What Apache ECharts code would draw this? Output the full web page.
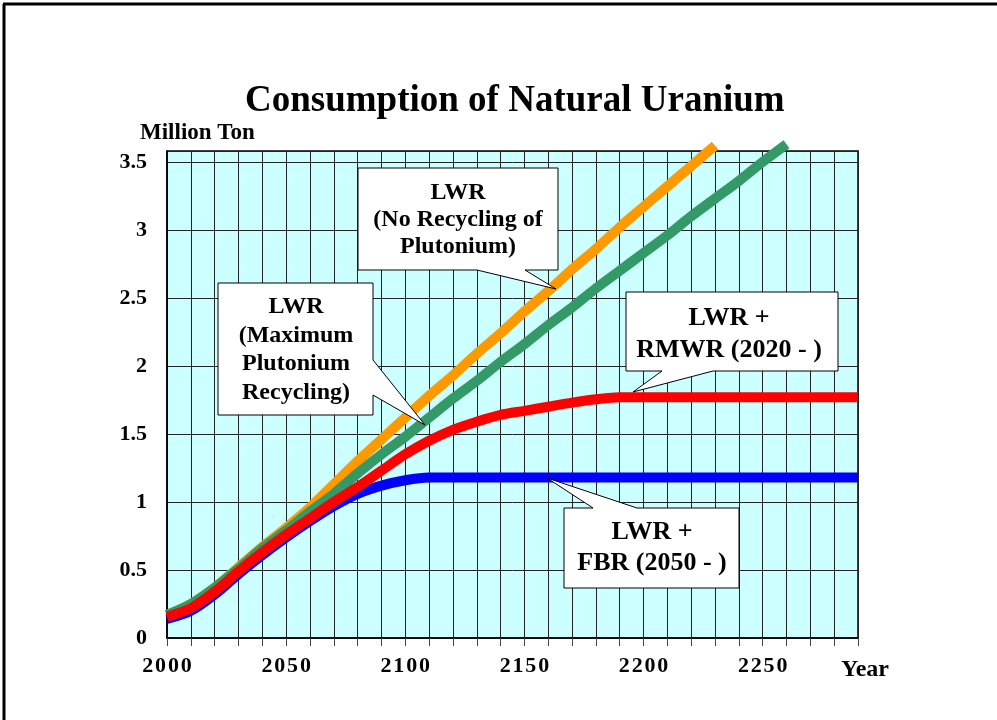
<!DOCTYPE html>
<html>
<head>
<meta charset="utf-8">
<script src="https://cdn.jsdelivr.net/npm/echarts@6/dist/echarts.min.js"></script>
<style>
  html, body { margin: 0; padding: 0; background: #fff; }
  #main { width: 997px; height: 720px; }
</style>
</head>
<body>
<div id="main"></div>
<script>
// years on the x axis (every 10 years)
var years = [2000, 2010, 2020, 2030, 2040, 2050, 2060, 2070, 2080, 2090,
             2100, 2110, 2120, 2130, 2140, 2150, 2160, 2170, 2180, 2190,
             2200, 2210, 2220, 2230, 2240, 2250, 2260, 2270, 2280, 2290];

// Million Ton
var lwrNoRecycle = [0.17, 0.25, 0.37, 0.52, 0.67, 0.81, 0.96, 1.13, 1.30, 1.46,
                    1.62, 1.78, 1.93, 2.09, 2.24, 2.40, 2.55, 2.71, 2.86, 3.02,
                    3.17, 3.32, 3.47, 3.62];
var lwrMaxRecycle = [0.17, 0.25, 0.37, 0.51, 0.66, 0.79, 0.93, 1.06, 1.21, 1.35,
                     1.48, 1.62, 1.76, 1.89, 2.03, 2.16, 2.30, 2.43, 2.57, 2.70,
                     2.83, 2.96, 3.10, 3.23, 3.36, 3.50, 3.63];
var lwrFbr = [0.14, 0.20, 0.32, 0.47, 0.61, 0.74, 0.86, 0.97, 1.06, 1.12,
              1.16, 1.18, 1.18, 1.18, 1.18, 1.18, 1.18, 1.18, 1.18, 1.18,
              1.18, 1.18, 1.18, 1.18, 1.18, 1.18, 1.18, 1.18, 1.18, 1.18];
var lwrRmwr = [0.157, 0.22, 0.34, 0.49, 0.63, 0.76, 0.88, 1.00, 1.11, 1.23,
               1.35, 1.45, 1.53, 1.59, 1.64, 1.67, 1.70, 1.73, 1.755, 1.77,
               1.77, 1.77, 1.77, 1.77, 1.77, 1.77, 1.77, 1.77, 1.77, 1.77];

var yTicks = [0, 0.5, 1, 1.5, 2, 2.5, 3, 3.5];

function pairs(vals) {
  return vals.map(function (v, i) { return [years[i], v]; });
}

var chart = echarts.init(document.getElementById('main'));
var serif = 'Liberation Serif';

function callout(points, lines, cx, y0, lh, size) {
  var els = [{
    type: 'polygon',
    shape: { points: points },
    style: { fill: '#fff', stroke: '#000', lineWidth: 1 },
    z: 100
  }];
  lines.forEach(function (t, i) {
    els.push({
      type: 'text', x: cx, y: y0 + i * lh, z: 101,
      style: { text: t, fill: '#000', font: 'bold ' + size + 'px ' + serif,
               textAlign: 'center', textVerticalAlign: 'middle' }
    });
  });
  return els;
}

var graphics = [
  { type: 'line', shape: { x1: 3, y1: 4, x2: 997, y2: 4 }, style: { stroke: '#000', lineWidth: 3 } },
  { type: 'line', shape: { x1: 4, y1: 4, x2: 4, y2: 720 }, style: { stroke: '#000', lineWidth: 3 } },
  { type: 'text', x: 140, y: 133, style: { text: 'Million Ton', fill: '#000', font: 'bold 23px ' + serif, textVerticalAlign: 'middle' } },
  { type: 'text', x: 841, y: 670, style: { text: 'Year', fill: '#000', font: 'bold 24px ' + serif, textVerticalAlign: 'middle' } }
];
graphics = graphics
  .concat(callout([[358, 168], [558, 168], [558, 270], [525, 270], [556, 289], [477, 270], [358, 270]],
                  ['LWR', '(No Recycling of', 'Plutonium)'], 458, 193, 27, 24))
  .concat(callout([[218, 283], [373, 283], [373, 360], [425, 425], [373, 395], [373, 415], [218, 415]],
                  ['LWR', '(Maximum', 'Plutonium', 'Recycling)'], 296, 307, 28.5, 24))
  .concat(callout([[626, 292], [838, 292], [838, 371], [713, 371], [633, 392], [662, 371], [626, 371]],
                  ['LWR +', 'RMWR (2020 - )'], 729, 318, 32, 26))
  .concat(callout([[564, 508], [593, 508], [547, 478], [637, 508], [739, 508], [739, 588], [564, 588]],
                  ['LWR +', 'FBR (2050 - )'], 652, 532, 31, 26));

var lineSeries = function (name, vals, color) {
  return {
    name: name, type: 'line', data: pairs(vals), smooth: 0.3,
    showSymbol: false, clip: false,
    lineStyle: { color: color, width: 10, cap: 'butt' },
    itemStyle: { color: color }
  };
};

var option = {
  backgroundColor: '#fff',
  animation: false,
  title: {
    text: 'Consumption of Natural Uranium',
    left: 240, top: 78,
    textStyle: { fontFamily: serif, fontSize: 37, fontWeight: 'bold', color: '#000' }
  },
  grid: {
    left: 167, top: 151, right: 139, bottom: 82,
    show: true, backgroundColor: '#ccffff', borderColor: '#000', borderWidth: 1.5
  },
  xAxis: {
    type: 'value', min: 2000, max: 2290, interval: 10,
    axisLine: { show: true, lineStyle: { color: '#000', width: 1.5 } },
    axisTick: { show: true, length: 8, lineStyle: { color: '#444' } },
    axisLabel: {
      margin: 17, color: '#000', fontFamily: serif, fontSize: 22, fontWeight: 'bold',
      formatter: function (v) { return v % 50 === 0 ? String(v).split('').join('\u200A') : ''; }
    },
    splitLine: { show: true, lineStyle: { color: '#222', width: 1 } }
  },
  yAxis: {
    type: 'value', min: 0, max: 3.58, interval: 0.5,
    axisLine: { show: true, lineStyle: { color: '#000', width: 1.5 } },
    axisTick: { show: false },
    axisLabel: {
      margin: 20, color: '#000', fontFamily: serif, fontSize: 22, fontWeight: 'bold',
      formatter: function (v) {
        var hit = yTicks.filter(function (t) { return Math.abs(t - v) < 1e-6; });
        return hit.length ? String(hit[0]) : '';
      }
    },
    splitLine: { show: true, lineStyle: { color: '#222', width: 1 } }
  },
  series: [
    lineSeries('LWR + FBR (2050 - )', lwrFbr, '#0000ff'),
    lineSeries('LWR (No Recycling of Plutonium)', lwrNoRecycle, '#ff9900'),
    lineSeries('LWR (Maximum Plutonium Recycling)', lwrMaxRecycle, '#339966'),
    lineSeries('LWR + RMWR (2020 - )', lwrRmwr, '#ff0000')
  ],
  graphic: graphics
};

chart.setOption(option);
</script>
</body>
</html>
